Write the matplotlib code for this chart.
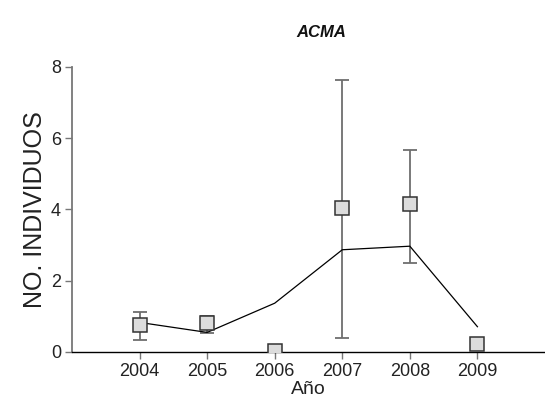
import matplotlib
matplotlib.use("Agg")
import matplotlib.pyplot as plt
import numpy as np

plt.rcParams['font.family'] = ['Liberation Sans', 'DejaVu Sans']

years = [2004, 2005, 2006, 2007, 2008, 2009]
# observed means with error bar limits
obs_mean = [0.77, 0.81, 0.03, 4.04, 4.15, 0.22]
err_low = [0.34, 0.52, None, 0.39, 2.51, None]
err_high = [1.11, 1.02, None, 7.64, 5.67, None]
# fitted trend
fit = [0.83, 0.55, 1.37, 2.87, 2.97, 0.71]

fig = plt.figure(figsize=(5.45, 4.12), dpi=100)
ax = fig.add_axes([72/545, 1 - 352/412, 1 - 72/545, (352 - 67)/412])

ax.plot(years, fit, color='black', lw=0.9, zorder=2)

for x, m, lo, hi in zip(years, obs_mean, err_low, err_high):
    if lo is not None:
        ax.errorbar([x], [m], yerr=[[m - lo], [hi - m]], fmt='none',
                    ecolor='#6e6e6e', elinewidth=1.3, capsize=5, capthick=1.3, zorder=1)

ax.plot(years, obs_mean, linestyle='none', marker='s', markersize=9.5,
        markerfacecolor='#dcdcdc', markeredgecolor='#333333', markeredgewidth=1.1, zorder=3)

ax.set_xlim(2003, 2010)
ax.set_ylim(0, 8)
ax.set_xticks(years)
ax.set_yticks([0, 2, 4, 6, 8])
ax.tick_params(axis='both', labelsize=13, direction='out', length=5, width=1,
               colors='#777777', labelcolor='#222222', pad=3)

ax.spines['top'].set_visible(False)
ax.spines['right'].set_visible(False)
ax.spines['left'].set_color('#777777')
ax.spines['left'].set_linewidth(1.3)
ax.spines['bottom'].set_color('black')
ax.spines['bottom'].set_linewidth(1.0)

ax.set_xlabel('Año', fontsize=14, color='#222222', labelpad=1)
ax.set_ylabel('NO. INDIVIDUOS', fontsize=18, color='#222222', labelpad=3)

fig.text(0.59, 0.922, 'ACMA', fontsize=12, fontweight='bold', fontstyle='italic',
         ha='center', va='center', color='#111111')

fig.savefig('out.png', dpi=100)
